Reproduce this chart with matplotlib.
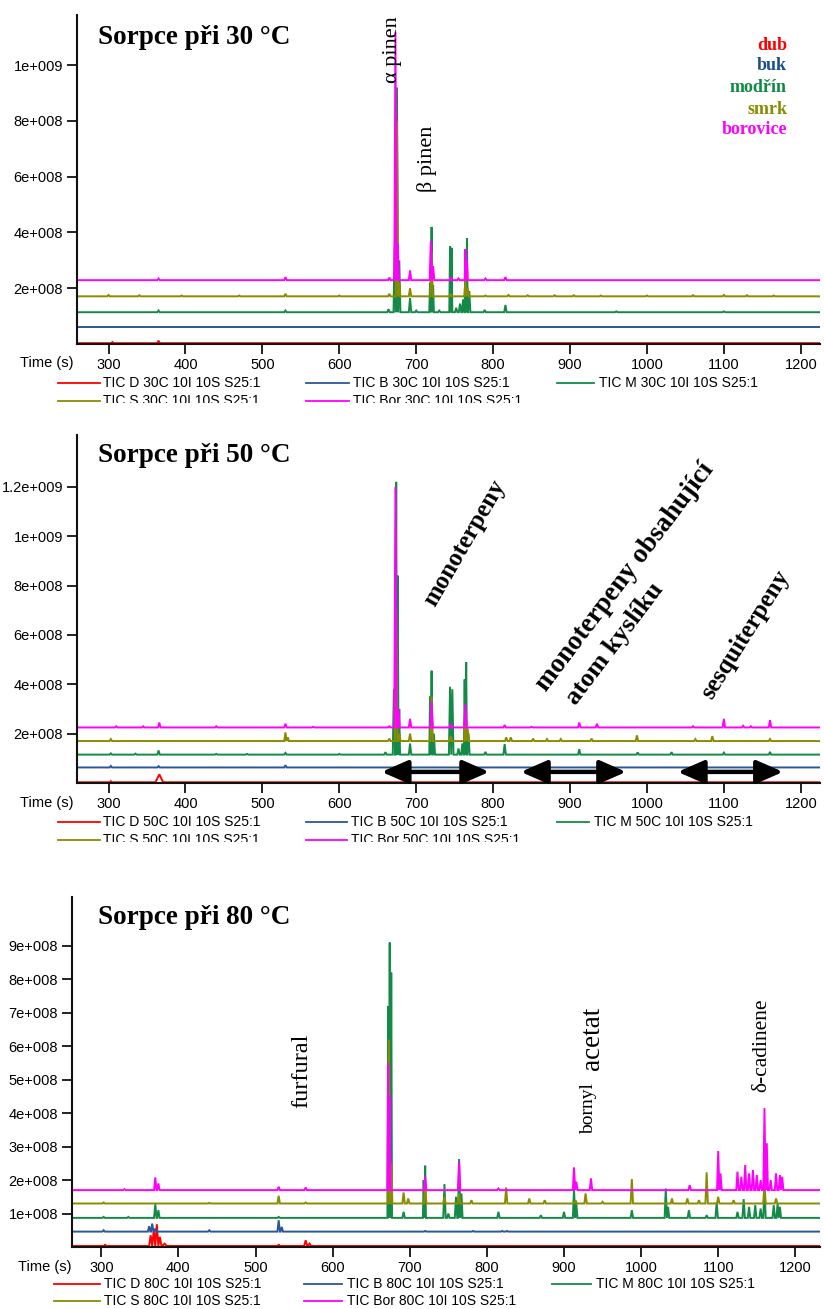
import matplotlib
matplotlib.use("Agg")
import matplotlib.pyplot as plt
from matplotlib.lines import Line2D
from matplotlib.patches import Rectangle
from matplotlib.ticker import FixedLocator, FixedFormatter

# ---------------- data (intensities in units of 1e8) ----------------
SERIES = ["D", "B", "M", "S", "Bor"]
COLORS = {"D": "#ff0000", "B": "#2b5797", "M": "#138a47", "S": "#8b8b00", "Bor": "#ff00ff"}
WOOD_NAMES = ["dub", "buk", "modřín", "smrk", "borovice"]
WOOD_COLORS = ["#ff0000", "#1c4e8c", "#0e8a43", "#8b8b00", "#ff00ff"]
TEMPS = ["30", "50", "80"]
TITLES = ["Sorpce při 30 °C", "Sorpce při 50 °C", "Sorpce při 80 °C"]

XTICKS = [300, 400, 500, 600, 700, 800, 900, 1000, 1100, 1200]

# 30 C
Y30_ticks = [2, 4, 6, 8, 10]
Y30_labels = ["2e+008", "4e+008", "6e+008", "8e+008", "1e+009"]
D30_base, D30_t, D30_h = 0.03, [305, 365], [0.07, 0.12]
B30_base, B30_t, B30_h = 0.61, [], []
M30_base = 1.14
M30_t = [365, 530, 664, 672, 675, 678, 692, 700, 718, 720, 722, 730, 744, 746, 752, 757, 761, 764, 766, 769, 789, 816, 960, 1100]
M30_h = [1.2, 1.2, 1.25, 3.5, 9.2, 3.0, 1.65, 1.2, 2.2, 4.2, 2.1, 1.2, 3.5, 3.45, 1.3, 1.45, 1.6, 3.3, 3.8, 1.9, 1.22, 1.4, 1.17, 1.17]
S30_base = 1.71
S30_t = [300, 340, 395, 470, 530, 600, 665, 675, 678, 692, 720, 745, 764, 767, 790, 820, 845, 880, 905, 940, 1000, 1060, 1100, 1130, 1165]
S30_h = [1.76, 1.75, 1.74, 1.74, 1.8, 1.74, 1.8, 8.0, 2.2, 2.0, 3.3, 1.8, 2.3, 2.0, 1.74, 1.76, 1.75, 1.75, 1.75, 1.74, 1.74, 1.75, 1.76, 1.75, 1.74]
Bor30_base = 2.29
Bor30_t = [365, 530, 665, 673, 676, 692, 719, 722, 745, 755, 764, 766, 790, 816]
Bor30_h = [2.35, 2.4, 2.38, 11.2, 3.6, 2.64, 3.7, 2.8, 2.4, 2.35, 3.4, 3.0, 2.35, 2.4]

# 50 C
Y50_ticks = [2, 4, 6, 8, 10, 12]
Y50_labels = ["2e+008", "4e+008", "6e+008", "8e+008", "1e+009", "1.2e+009"]
D50_base, D50_t, D50_h, D50_w = 0.03, [303, 366], [0.07, 0.35], [1.0, 5.0]
B50_base, B50_t, B50_h = 0.63, [303, 365, 530], [0.69, 0.68, 0.72]
M50_base = 1.15
M50_t = [303, 335, 365, 440, 480, 530, 600, 660, 671, 674, 676, 678, 692, 718, 720, 723, 744, 747, 755, 760, 763, 765, 768, 790, 815, 912, 988, 1032, 1100, 1160]
M50_h = [1.2, 1.19, 1.32, 1.18, 1.18, 1.22, 1.18, 1.25, 3.8, 12.2, 8.4, 3.0, 1.6, 3.5, 4.55, 2.0, 3.9, 3.8, 1.4, 1.6, 4.2, 4.9, 2.0, 1.26, 1.58, 1.37, 1.24, 1.25, 1.23, 1.26]
S50_base = 1.7
S50_t = [303, 530, 533, 665, 674, 678, 692, 720, 745, 764, 767, 817, 823, 852, 870, 888, 928, 987, 1063, 1085, 1160]
S50_h = [1.78, 2.05, 1.85, 1.8, 7.0, 2.0, 2.0, 3.5, 1.9, 2.7, 2.2, 1.85, 1.85, 1.8, 1.78, 1.78, 1.8, 1.93, 1.78, 1.9, 1.78]
Bor50_base = 2.25
Bor50_t = [310, 345, 366, 440, 530, 566, 665, 673, 677, 692, 720, 745, 764, 815, 850, 912, 935, 1060, 1100, 1125, 1135, 1160]
Bor50_h = [2.3, 2.3, 2.45, 2.3, 2.4, 2.28, 2.3, 12.0, 3.0, 2.6, 3.3, 2.4, 3.2, 2.35, 2.28, 2.45, 2.4, 2.3, 2.6, 2.32, 2.3, 2.55]
ARROW_SPANS = [(655, 795), (836, 973), (1040, 1177)]
ARROW_Y = 0.45

# 80 C
Y80_ticks = [1, 2, 3, 4, 5, 6, 7, 8, 9]
Y80_labels = ["1e+008", "2e+008", "3e+008", "4e+008", "5e+008", "6e+008", "7e+008", "8e+008", "9e+008"]
D80_base = 0.03
D80_t = [305, 364, 368, 372, 376, 382, 530, 565, 570]
D80_h = [0.08, 0.35, 0.5, 0.68, 0.3, 0.1, 0.08, 0.2, 0.1]
D80_w = [1, 2, 2, 2, 2, 3, 1, 2, 2]
B80_base = 0.46
B80_t = [303, 362, 366, 370, 440, 530, 534, 720, 782, 820, 826]
B80_h = [0.5, 0.62, 0.7, 0.55, 0.5, 0.8, 0.6, 0.48, 0.48, 0.48, 0.48]
M80_base = 0.87
M80_t = [303, 335, 370, 374, 530, 672, 674, 676, 692, 718, 720, 745, 750, 760, 764, 767, 815, 870, 900, 913, 916, 988, 1032, 1035, 1062, 1085, 1098, 1125, 1133, 1140, 1148, 1155, 1160, 1172, 1177, 1180]
M80_h = [0.9, 0.9, 1.28, 1.1, 0.9, 7.2, 9.1, 8.2, 1.05, 2.0, 2.43, 1.88, 1.0, 1.5, 2.63, 1.6, 1.05, 0.95, 1.05, 1.75, 1.3, 1.1, 1.75, 1.2, 1.1, 0.95, 1.33, 1.05, 1.43, 1.2, 1.25, 1.15, 1.8, 1.25, 1.3, 1.2]
S80_base = 1.3
S80_t = [303, 440, 530, 565, 673, 676, 692, 698, 720, 745, 764, 780, 825, 855, 875, 915, 928, 950, 988, 1040, 1060, 1075, 1085, 1100, 1120, 1160, 1175]
S80_h = [1.33, 1.32, 1.53, 1.33, 6.2, 2.5, 1.63, 1.45, 1.85, 1.5, 1.6, 1.4, 1.78, 1.45, 1.4, 1.4, 1.6, 1.35, 2.03, 1.45, 1.45, 1.4, 2.23, 1.5, 1.4, 1.9, 1.45]
Bor80_base = 1.7
Bor80_t = [330, 370, 374, 530, 565, 672, 674, 720, 764, 815, 913, 916, 935, 1063, 1100, 1103, 1125, 1130, 1135, 1140, 1145, 1150, 1155, 1160, 1163, 1168, 1175, 1180, 1183]
Bor80_h = [1.73, 2.08, 1.9, 1.8, 1.78, 5.5, 4.5, 2.1, 2.55, 1.75, 2.38, 1.95, 2.05, 1.85, 2.87, 2.2, 2.25, 2.1, 2.45, 2.2, 2.3, 2.15, 2.0, 4.15, 3.1, 2.0, 2.2, 2.15, 2.1]

SCALE = 1e8
PEAK_HALF_WIDTH = 1.6


def build(base, ts, hs, ws=None, x0=250, x1=1240):
    """Polyline through the read peak apexes, each peak rising from the baseline."""
    pk = sorted(zip(ts, hs, ws if ws is not None else [None] * len(ts)))
    xs, ys = [x0], [base]
    for i, (t, h, w) in enumerate(pk):
        left = t - pk[i - 1][0] if i > 0 else 99
        right = pk[i + 1][0] - t if i + 1 < len(pk) else 99
        if w is None:
            w = min(PEAK_HALF_WIDTH, left / 2, right / 2)
        xs += [t - w, t, t + w]
        ys += [base, h, base]
    xs.append(x1)
    ys.append(base)
    return xs, [v * SCALE for v in ys]


panels = [
    dict(series={"D": (D30_base, D30_t, D30_h, None), "B": (B30_base, B30_t, B30_h, None),
                 "M": (M30_base, M30_t, M30_h, None), "S": (S30_base, S30_t, S30_h, None),
                 "Bor": (Bor30_base, Bor30_t, Bor30_h, None)},
         yt=Y30_ticks, yl=Y30_labels, ylim=11.8,
         rect_px=(77, 15, 820, 344), xlim=(259, 1225)),
    dict(series={"D": (D50_base, D50_t, D50_h, D50_w), "B": (B50_base, B50_t, B50_h, None),
                 "M": (M50_base, M50_t, M50_h, None), "S": (S50_base, S50_t, S50_h, None),
                 "Bor": (Bor50_base, Bor50_t, Bor50_h, None)},
         yt=Y50_ticks, yl=Y50_labels, ylim=14.1,
         rect_px=(77, 435, 820, 783), xlim=(259, 1225)),
    dict(series={"D": (D80_base, D80_t, D80_h, D80_w),
                 "B": (B80_base, B80_t, B80_h, None),
                 "M": (M80_base, M80_t, M80_h, None), "S": (S80_base, S80_t, S80_h, None),
                 "Bor": (Bor80_base, Bor80_t, Bor80_h, None)},
         yt=Y80_ticks, yl=Y80_labels, ylim=10.46,
         rect_px=(72, 897, 820, 1247), xlim=(262, 1232)),
]

W, H = 824, 1309
fig = plt.figure(figsize=(W / 100, H / 100), dpi=100)


def fx(x):
    return x / W


def fy(y):
    return 1 - y / H


SANS = "Liberation Sans"
SERIF = "Liberation Serif"
axes = []
for p in panels:
    x0, y0, x1, y1 = p["rect_px"]
    ax = fig.add_axes([fx(x0), fy(y1), (x1 - x0) / W, (y1 - y0) / H])
    for key in SERIES:
        base, ts, hs, ws = p["series"][key]
        xs, ys = build(base, ts, hs, ws)
        ax.plot(xs, ys, color=COLORS[key], lw=1.4, solid_joinstyle="miter", clip_on=True)
    ax.set_xlim(*p["xlim"])
    ax.set_ylim(0, p["ylim"] * SCALE)
    ax.xaxis.set_major_locator(FixedLocator(XTICKS))
    ax.xaxis.set_major_formatter(FixedFormatter([str(v) for v in XTICKS]))
    ax.yaxis.set_major_locator(FixedLocator([v * SCALE for v in p["yt"]]))
    ax.yaxis.set_major_formatter(FixedFormatter(p["yl"]))
    for s in ["top", "right"]:
        ax.spines[s].set_visible(False)
    for s in ["left", "bottom"]:
        ax.spines[s].set_linewidth(1.5)
        ax.spines[s].set_color("#111111")
    ax.tick_params(axis="both", direction="out", length=7, width=1.3, color="#111111",
                   labelsize=10.5, pad=3)
    for lab in ax.get_xticklabels() + ax.get_yticklabels():
        lab.set_fontfamily(SANS)
    axes.append(ax)

# titles
title_y = [38, 455, 918]
for t, yy in zip(TITLES, title_y):
    fig.text(fx(98), fy(yy), t, fontfamily=SERIF, fontweight="bold", fontsize=19.5,
             ha="left", va="center")

# wood legend (top panel)
wood_y = [45, 66, 88, 109, 130]
for name, col, yy in zip(WOOD_NAMES, WOOD_COLORS, wood_y):
    fig.text(fx(787), fy(yy), name, color=col, fontfamily=SERIF, fontweight="bold",
             fontsize=13, ha="right", va="center")


def vtext(x, y, s, size, weight="normal", rot=90):
    fig.text(fx(x), fy(y), s, fontfamily=SERIF, fontsize=size, fontweight=weight,
             rotation=rot, ha="center", va="center")


def atext(x, y, s, size, weight="bold", rot=57):
    fig.text(fx(x), fy(y), s, fontfamily=SERIF, fontsize=size, fontweight=weight,
             rotation=rot, rotation_mode="anchor", ha="left", va="baseline")


vtext(393, 50, "α pinen", 16)
vtext(427, 159, "β pinen", 16)
vtext(465, 543, "monoterpeny", 18, "bold", 60)
atext(546, 692, "monoterpeny obsahující", 19.5, rot=53)
atext(576, 706, "atom kyslíku", 19, rot=53)
vtext(745, 635, "sesquiterpeny", 18, "bold", 58)
vtext(302, 1071, "furfural", 17.5)
vtext(592, 1038, "acetat", 19.5)
vtext(589, 1109, "bornyl", 14)
vtext(762, 1045, "δ-cadinene", 15.5)

# arrows (middle panel)
for a, b in ARROW_SPANS:
    axes[1].annotate("", xy=(b, ARROW_Y * SCALE), xytext=(a, ARROW_Y * SCALE),
                     arrowprops=dict(arrowstyle="<|-|>,head_length=0.8,head_width=0.35",
                                     color="black", lw=3.2, mutation_scale=20,
                                     shrinkA=0, shrinkB=0))

# "Time (s)" labels and legends below the panels
time_y = [363, 803, 1267]
time_x = [20, 20, 18]
leg_rows = [(383, 401), (822, 840), (1284, 1301)]
leg_cols = [((58, 100, 103), (306, 349, 353), (557, 594, 599)),
            ((58, 100, 103), (306, 347, 351), (557, 589, 594)),
            ((54, 100, 104), (304, 342, 347), (552, 591, 596))]
clip_y = [403, 842, None]
names_full = ["TIC D {t}C 10I 10S S25:1", "TIC B {t}C 10I 10S S25:1", "TIC M {t}C 10I 10S S25:1",
              "TIC S {t}C 10I 10S S25:1", "TIC Bor {t}C 10I 10S S25:1"]
for i, temp in enumerate(TEMPS):
    fig.text(fx(time_x[i]), fy(time_y[i]), "Time (s)", fontfamily=SANS, fontsize=10.5,
             ha="left", va="center")
    for k, key in enumerate(SERIES):
        r, c = divmod(k, 3)
        lx0, lx1, tx = leg_cols[i][c]
        yy = leg_rows[i][r]
        fig.add_artist(Line2D([fx(lx0), fx(lx1)], [fy(yy), fy(yy)], color=COLORS[key], lw=1.3,
                              transform=fig.transFigure))
        fig.text(fx(tx), fy(yy), names_full[k].format(t=temp), fontfamily=SANS, fontsize=10,
                 ha="left", va="center")
    if clip_y[i] is not None:
        fig.add_artist(Rectangle((0, fy(clip_y[i] + 14)), 1, 14 / H, transform=fig.transFigure,
                                 facecolor="white", edgecolor="none", zorder=20))

fig.savefig("out.png", dpi=100, facecolor="white")
